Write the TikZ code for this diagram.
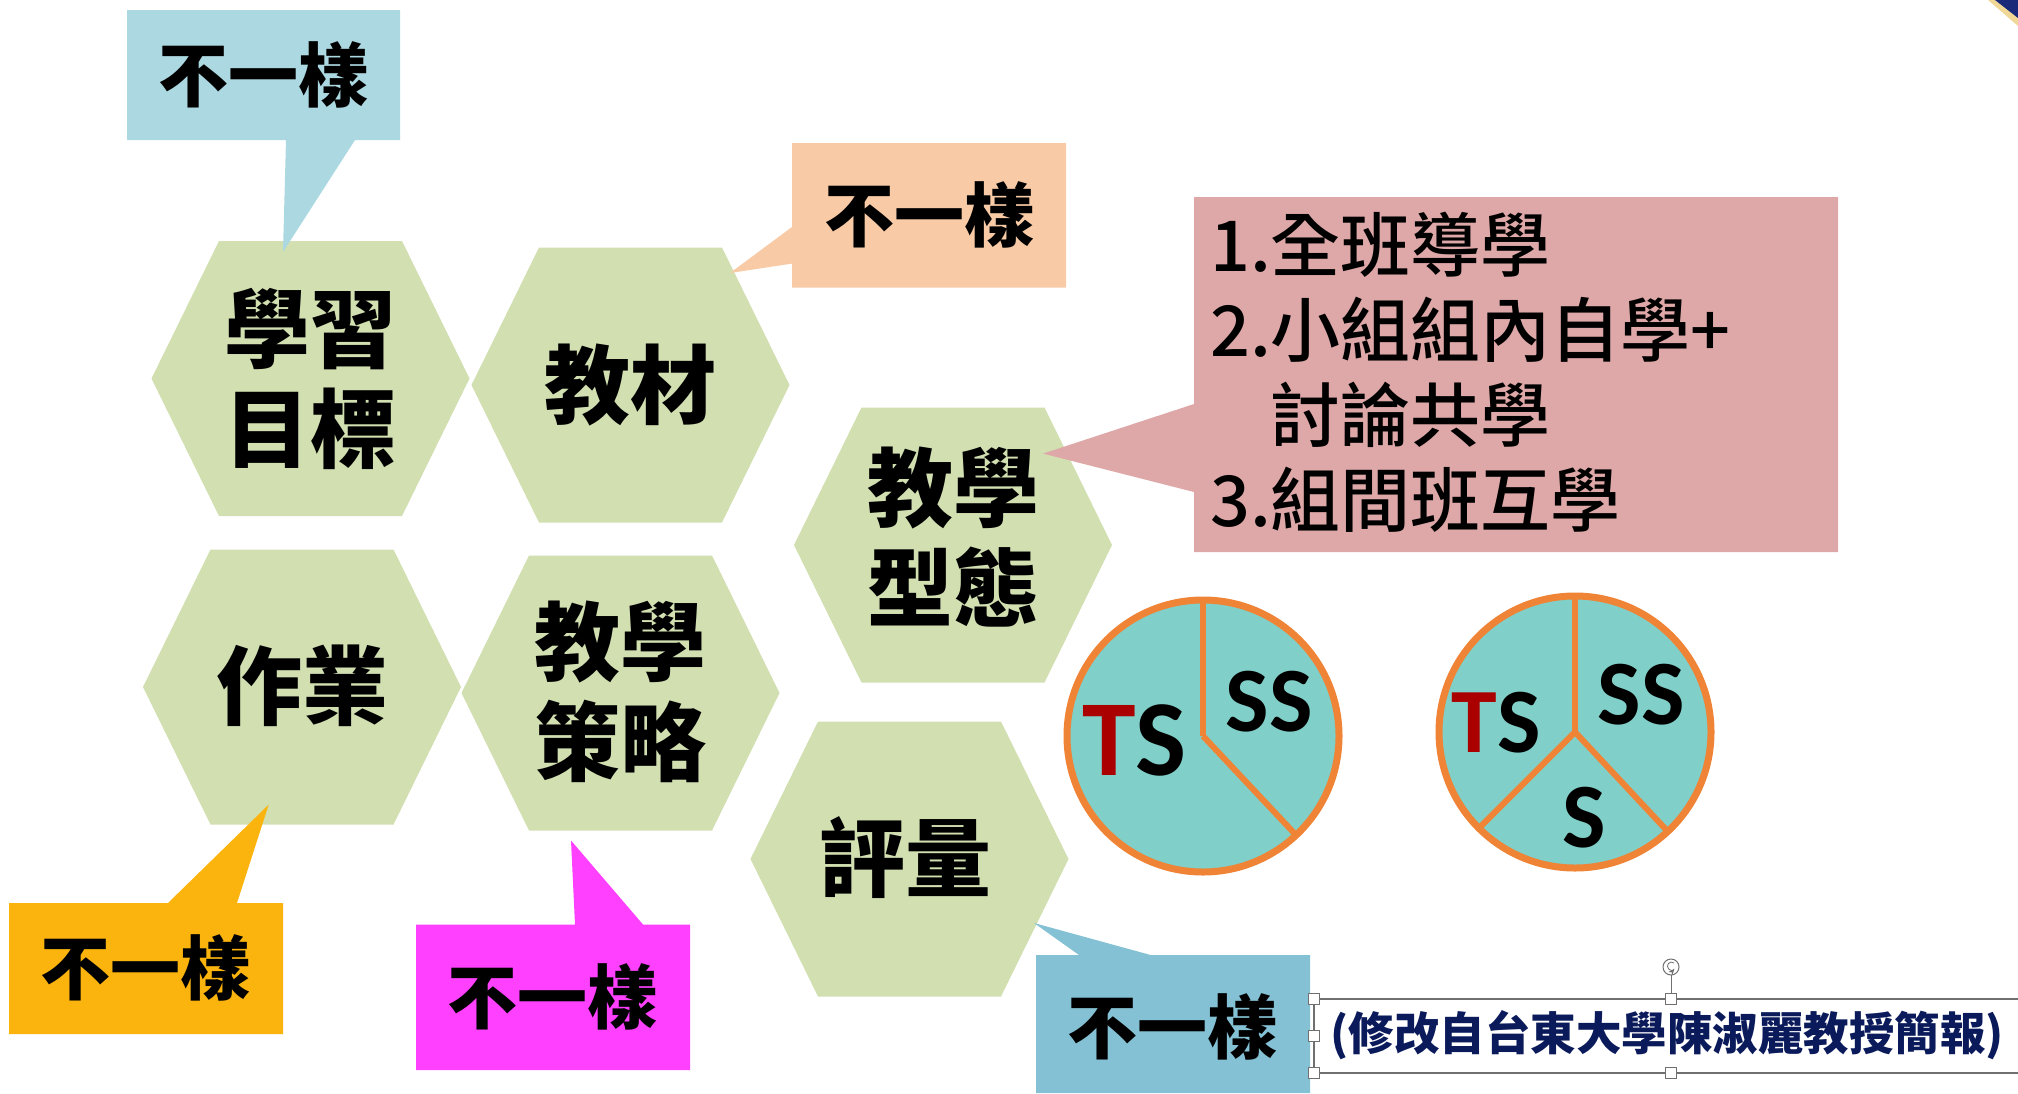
\documentclass[tikz,border=0pt]{standalone}
\usepackage{fontspec}
\usepackage{tikz}
\usetikzlibrary{arrows.meta}
\newfontfamily\cjk{Noto Sans CJK TC}
\newfontfamily\cjkmed{Noto Sans CJK TC Medium}
\newfontfamily\cjkheavy{Noto Sans CJK TC Black}
\newfontfamily\carlito{Carlito}

\definecolor{hexgreen}{RGB}{209,223,177}
\definecolor{tagblue}{RGB}{172,216,225}
\definecolor{tagpeach}{RGB}{248,203,166}
\definecolor{tagpink}{RGB}{223,168,168}
\definecolor{tagorange}{RGB}{251,180,13}
\definecolor{tagmagenta}{RGB}{255,64,255}
\definecolor{tagsteel}{RGB}{133,193,212}
\definecolor{pieteal}{RGB}{128,207,200}
\definecolor{pieorange}{RGB}{240,132,54}
\definecolor{tred}{RGB}{170,0,0}
\definecolor{captionnavy}{RGB}{10,26,90}
\definecolor{handlegray}{RGB}{112,112,112}
\definecolor{logonavy}{RGB}{25,40,120}
\definecolor{logocream}{RGB}{240,215,150}

\begin{document}
\begin{tikzpicture}[x=1pt, y=-1pt, >=Stealth,
  pics/hexcell/.style={code={
    \fill[hexgreen] (-159,0) -- (-91.5,-137.5) -- (91.5,-137.5) -- (159,0)
      -- (91.5,137.5) -- (-91.5,137.5) -- cycle;}},
  hextext/.style={font=\cjkheavy\fontsize{86}{100}\selectfont, align=center, inner sep=0pt},
  tagtext/.style={font=\cjk\bfseries\fontsize{70}{80}\selectfont, inner sep=0pt},
  pieline/.style={pieorange, line width=6pt},
  pietext/.style={font=\carlito\bfseries\fontsize{#1}{#1}\selectfont, inner sep=0pt},
  handle/.style={draw=handlegray, fill=white, line width=1pt, minimum size=11pt, inner sep=0pt}]
\fill[white] (0,0) rectangle (2018,1093);
\useasboundingbox (0,0) rectangle (2018,1093);

% hexagon cells
\pic at (310.5,378.5) {hexcell};
\pic at (630.5,385) {hexcell};
\pic at (953,545) {hexcell};
\pic at (302,687) {hexcell};
\pic at (620.5,693) {hexcell};
\pic at (909.5,859) {hexcell};
\node[hextext] (goal) at (310.5,378.5) {學習\\目標};
\node[hextext] (material) at (630.5,385) {教材};
\node[hextext] (mode) at (953,537) {教學\\型態};
\node[hextext] (homework) at (302,686) {作業};
\node[hextext] (strategy) at (620,692) {教學\\策略};
\node[hextext] (assess) at (905,858) {評量};

% callouts
\fill[tagblue] (127,10) -- (400,10) -- (400,140) -- (355,140) -- (283,252)
  -- (286,140) -- (127,140) -- cycle;
\node[tagtext] (tagA) at (263.5,75) {不一樣};

\fill[tagpeach] (792,143) -- (1066,143) -- (1066,287.5) -- (792,287.5)
  -- (792,263.6) -- (730,273) -- (792,227) -- cycle;
\node[tagtext] (tagB) at (929,215) {不一樣};

\fill[tagpink] (1194,197) -- (1838,197) -- (1838,552) -- (1194,552)
  -- (1194,492) -- (1043,453.6) -- (1194,404) -- cycle;
\node[anchor=west, align=left, inner sep=0pt, font=\cjkmed\fontsize{70}{85}\selectfont]
  (modes) at (1210,372) {1.全班導學\\2.小組組內自學+\\\phantom{2.}討論共學\\3.組間班互學};

\fill[tagorange] (9,903) -- (168,903) -- (268.7,804.6) -- (237,903) -- (283,903)
  -- (283,1034) -- (9,1034) -- cycle;
\node[tagtext] (tagC) at (145.6,968) {不一樣};

\fill[tagmagenta] (416,924.5) -- (575,924.5) -- (571,840.5) -- (643,924.5)
  -- (690,924.5) -- (690,1070) -- (416,1070) -- cycle;
\node[tagtext] (tagD) at (552,997) {不一樣};

\fill[tagsteel] (1036,955) -- (1079,955) -- (1034,923) -- (1150.6,955)
  -- (1310,955) -- (1310,1093) -- (1036,1093) -- cycle;
\node[tagtext] (tagE) at (1172,1027) {不一樣};

% pie charts (angles mirrored, y points down)
\coordinate (pieA) at (1203,736);
\fill[pieteal] (pieA) circle (136);
\draw[pieline] (pieA) -- ++(-90:136);
\draw[pieline] (pieA) -- ++(46.8:136);
\draw[pieorange, line width=7pt] (pieA) circle (136);
\node[pietext=108] (tsA) at (1134.5,740.5) {\textcolor{tred}{T}S};
\node[pietext=92] (ssA) at (1269,702) {SS};

\coordinate (pieB) at (1575,732);
\fill[pieteal] (pieB) circle (136);
\draw[pieline] (pieB) -- ++(-90:136);
\draw[pieline] (pieB) -- ++(135:136);
\draw[pieline] (pieB) -- ++(47:136);
\draw[pieorange, line width=7pt] (pieB) circle (136);
\node[pietext=92] (tsB) at (1496,722.5) {\textcolor{tred}{T}S};
\node[pietext=92] (ssB) at (1641,695) {SS};
\node[pietext=92] (sB) at (1584.5,818) {S};

% source text box with selection handles
\draw[handlegray, line width=2pt] (2018,999) -- (1314,999) -- (1314,1073) -- (2018,1073);
\draw[handlegray, line width=1pt] (1671,999) -- (1671,975);
\draw[handlegray, fill=white, line width=1pt] (1671,967) circle (8);
\draw[handlegray, line width=0.8pt, ->] (1674,963) arc[start angle=-50, end angle=-320, radius=4];
\node[handle] (hA) at (1314,999) {};
\node[handle] (hB) at (1314,1036) {};
\node[handle] (hC) at (1314,1073) {};
\node[handle] (hD) at (1671,999) {};
\node[handle] (hE) at (1671,1073) {};
\node[font=\cjk\bfseries\fontsize{45.5}{46}\selectfont, text=captionnavy, inner sep=0pt]
  (source) at (1667,1035.5) {(修改自台東大學陳淑麗教授簡報)};

% corner of a logo
\fill[logocream] (1988,0) -- (2018,0) -- (2018,26) -- cycle;
\fill[logonavy] (1995,0) -- (2018,0) -- (2018,18) -- cycle;
\end{tikzpicture}
\end{document}
